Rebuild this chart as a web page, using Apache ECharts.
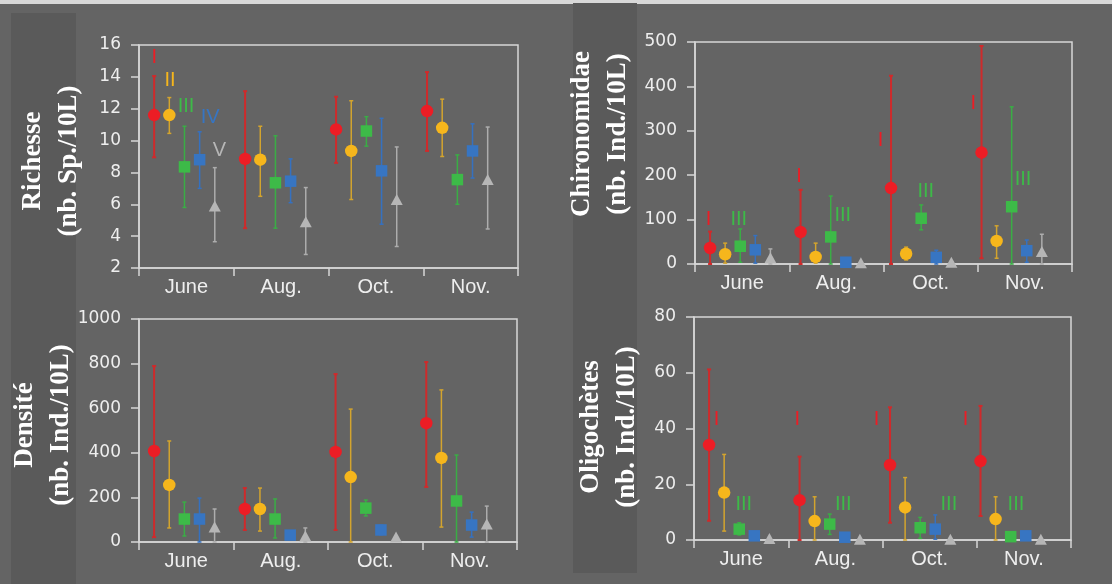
<!DOCTYPE html>
<html>
<head>
<meta charset="utf-8">
<script src="https://cdn.jsdelivr.net/npm/echarts@6/dist/echarts.min.js"></script>
<style>
  html, body { margin: 0; padding: 0; background: #646464; }
  #chart { width: 1112px; height: 584px; }
</style>
</head>
<body>
<div id="chart"></div>
<script>
// Sampling months and sites
const months = ['June', 'Aug.', 'Oct.', 'Nov.'];
const sites = ['I', 'II', 'III', 'IV', 'V'];

// Richesse (nb. Sp./10L) — one row per site, one column per month
const richesseMean = [
  [11.6, 8.85, 10.7, 11.85],
  [11.6, 8.8, 9.35, 10.8],
  [8.35, 7.35, 10.6, 7.55],
  [8.8, 7.45, 8.1, 9.35],
  [5.9, 4.9, 6.3, 7.55]
];
const richesseLow = [
  [8.95, 4.5, 8.6, 9.35],
  [10.45, 6.5, 6.3, 9.0],
  [5.8, 4.5, 9.65, 6.0],
  [7.0, 6.1, 4.75, 7.65],
  [3.65, 2.85, 3.35, 4.45]
];
const richesseHigh = [
  [14.05, 13.1, 12.75, 14.3],
  [12.7, 10.9, 12.5, 12.6],
  [10.9, 10.3, 11.5, 9.1],
  [10.55, 8.85, 11.4, 11.05],
  [8.3, 7.05, 9.6, 10.85]
];

// Chironomidae (nb. Ind./10L)
const chiroMean = [
  [36, 72, 171, 251],
  [22, 16, 23, 52],
  [40, 61, 103, 129],
  [32, 4, 15, 30],
  [14, 3, 4, 28]
];
const chiroLow = [
  [0, 0, 0, 13],
  [2, 2, 9, 13],
  [4, 0, 77, 0],
  [2, 4, 0, 4],
  [0, 3, 4, 0]
];
const chiroHigh = [
  [73, 167, 424, 491],
  [47, 47, 38, 86],
  [79, 153, 133, 354],
  [64, 4, 31, 54],
  [34, 3, 4, 67]
];

// Densité (nb. Ind./10L)
const densiteMean = [
  [408, 148, 404, 533],
  [256, 148, 291, 377],
  [103, 103, 152, 184],
  [103, 31, 54, 76],
  [67, 27, 22, 81]
];
const densiteLow = [
  [22, 54, 54, 247],
  [63, 49, 0, 67],
  [27, 18, 117, 0],
  [0, 31, 33, 22],
  [0, 0, 22, 0]
];
const densiteHigh = [
  [789, 242, 753, 807],
  [453, 242, 596, 682],
  [179, 193, 188, 390],
  [197, 31, 75, 134],
  [148, 63, 22, 161]
];

// Oligochètes (nb. Ind./10L)
const oligoMean = [
  [34.1, 14.3, 26.9, 28.3],
  [17.0, 6.8, 11.7, 7.5],
  [3.9, 5.7, 4.4, 1.2],
  [1.5, 1.0, 3.9, 1.5],
  [0.5, 0.3, 0.3, 0.3]
];
const oligoLow = [
  [6.9, 0, 6.2, 8.6],
  [3.2, 0, 0, 0],
  [1.8, 2.0, 0.6, 1.2],
  [1.5, 1.0, 0.3, 1.5],
  [0.5, 0.3, 0.3, 0.3]
];
const oligoHigh = [
  [61.2, 29.9, 47.6, 48.1],
  [30.7, 15.5, 22.4, 15.5],
  [6.2, 9.3, 8.1, 1.2],
  [1.5, 1.0, 9.0, 1.5],
  [0.5, 0.3, 0.3, 0.3]
];

// Site tags written on the plots: [site index, slot position, value]
const richesseTags = [[0, 0, 15.2], [1, 1.05, 13.75], [2, 2.1, 12.15], [3, 3.7, 11.45], [4, 4.3, 9.4]];
const chiroTags = [
  [0, -0.1, 101], [2, 1.9, 101],
  [0, 5.9, 198], [2, 8.8, 110],
  [0, 11.3, 278], [2, 14.3, 164],
  [0, 17.45, 361], [2, 20.75, 191]
];
const densiteTags = [];
const oligoTags = [
  [0, 0.5, 43.2], [2, 2.3, 12.9],
  [0, 5.85, 43.2], [2, 8.9, 12.9],
  [0, 11.1, 43.2], [2, 15.9, 12.9],
  [0, 17.0, 43.2], [2, 20.35, 12.9]
];

// Per-site look
const markerColor = ['#ec1d25', '#f6b61c', '#3dba48', '#3775c2', '#b6b6b6'];
const whiskerColor = ['#cf2a2b', '#d3a42e', '#3aad45', '#3571c0', '#adadad'];
const whiskerWidth = [2, 1.5, 1.5, 1.5, 1.5];
const markerShape = ['circle', 'circle', 'rect', 'rect', 'triangle'];
const markerSize = [12.5, 12.5, 11.5, 11.5, [12, 11]];

const panels = [
  { title: 'Richesse\n(nb. Sp./10L)', mean: richesseMean, low: richesseLow, high: richesseHigh, tags: richesseTags,
    yMin: 2, yMax: 16, yStep: 2, grid: { left: 139, top: 45, width: 379, height: 223 }, titleAt: [51.5, 161] },
  { title: 'Chironomidae\n(nb. Ind./10L)', mean: chiroMean, low: chiroLow, high: chiroHigh, tags: chiroTags,
    yMin: 0, yMax: 500, yStep: 100, grid: { left: 695, top: 42, width: 377, height: 222 }, titleAt: [600.5, 134] },
  { title: 'Densité\n(nb. Ind./10L)', mean: densiteMean, low: densiteLow, high: densiteHigh, tags: densiteTags,
    yMin: 0, yMax: 1000, yStep: 200, grid: { left: 139, top: 319, width: 378, height: 223 }, titleAt: [43, 425] },
  { title: 'Oligochètes\n(nb. Ind./10L)', mean: oligoMean, low: oligoLow, high: oligoHigh, tags: oligoTags,
    yMin: 0, yMax: 80, yStep: 20, grid: { left: 694, top: 317, width: 377, height: 223 }, titleAt: [609, 427] }
];

const axisGrey = '#d6d6d6';
const labelGrey = '#eeeeee';

// Each month holds six slots along the hidden value axis: five sites and a gap
const slotOf = (m, s) => m * 6 + s;

const grids = [], xAxes = [], yAxes = [], series = [], graphics = [];

// Header strip and darker title bands
graphics.push({ type: 'rect', shape: { x: 0, y: 0, width: 1112, height: 4 }, style: { fill: '#d8d8d8' }, z: 0 });
graphics.push({ type: 'rect', shape: { x: 11, y: 13, width: 65, height: 571 }, style: { fill: '#5a5a5a' }, z: 0 });
graphics.push({ type: 'rect', shape: { x: 573, y: 3, width: 64, height: 570 }, style: { fill: '#5a5a5a' }, z: 0 });

panels.forEach((p, pi) => {
  grids.push(Object.assign({ show: true, borderColor: axisGrey, borderWidth: 1.5, backgroundColor: 'transparent', containLabel: false }, p.grid));

  // Visible month axis
  xAxes.push({
    gridIndex: pi, type: 'category', data: months, boundaryGap: true, position: 'bottom',
    axisLine: { show: true, onZero: false, lineStyle: { color: axisGrey, width: 1.5 } },
    axisTick: { show: true, length: 8, alignWithLabel: false, lineStyle: { color: axisGrey, width: 1.5 } },
    axisLabel: { color: labelGrey, fontSize: 20, fontFamily: 'Liberation Sans', margin: 9 },
    splitLine: { show: false }
  });
  // Hidden slot axis carrying the marks
  xAxes.push({ gridIndex: pi, type: 'value', min: -1, max: 24, show: false,
    axisLine: { onZero: false }, splitLine: { show: false } });

  yAxes.push({
    gridIndex: pi, type: 'value', min: p.yMin, max: p.yMax, interval: p.yStep, position: 'left',
    axisLine: { show: true, onZero: false, lineStyle: { color: axisGrey, width: 1.5 } },
    axisTick: { show: true, length: 8, lineStyle: { color: axisGrey, width: 1.5 } },
    axisLabel: { color: labelGrey, fontSize: 17, fontFamily: 'DejaVu Sans', margin: 18, formatter: v => String(v) },
    splitLine: { show: false }
  });

  const xi = pi * 2 + 1;

  sites.forEach((site, s) => {
    const bars = months.map((m, mi) => [slotOf(mi, s), p.low[s][mi], p.high[s][mi]]);
    const pts = months.map((m, mi) => [slotOf(mi, s), p.mean[s][mi]]);

    series.push({
      type: 'custom', xAxisIndex: xi, yAxisIndex: pi, data: bars, z: 2, silent: true, animation: false,
      encode: { x: 0, y: [1, 2] },
      renderItem: (params, api) => {
        const x = api.value(0);
        const top = api.coord([x, api.value(2)]);
        const bot = api.coord([x, api.value(1)]);
        const st = { stroke: whiskerColor[s], lineWidth: whiskerWidth[s] };
        const cap = 2;
        return {
          type: 'group',
          children: [
            { type: 'line', shape: { x1: top[0], y1: top[1], x2: bot[0], y2: bot[1] }, style: st },
            { type: 'line', shape: { x1: top[0] - cap, y1: top[1], x2: top[0] + cap, y2: top[1] }, style: st },
            { type: 'line', shape: { x1: bot[0] - cap, y1: bot[1], x2: bot[0] + cap, y2: bot[1] }, style: st }
          ]
        };
      }
    });

    series.push({
      type: 'scatter', xAxisIndex: xi, yAxisIndex: pi, data: pts, z: 3, silent: true, animation: false,
      symbol: markerShape[s], symbolSize: markerSize[s],
      itemStyle: { color: markerColor[s], opacity: 1 }
    });
  });

  if (p.tags.length) {
    series.push({
      type: 'custom', xAxisIndex: xi, yAxisIndex: pi, z: 4, silent: true, animation: false,
      data: p.tags.map(t => [t[1], t[2], t[0]]),
      encode: { x: 0, y: 1 },
      renderItem: (params, api) => {
        const pos = api.coord([api.value(0), api.value(1)]);
        const s = api.value(2);
        return {
          type: 'text', x: pos[0], y: pos[1],
          style: { text: sites[s], fill: markerColor[s], font: '20px "Liberation Sans"', align: 'center', verticalAlign: 'middle' }
        };
      }
    });
  }

  graphics.push({
    type: 'text', x: p.titleAt[0], y: p.titleAt[1], rotation: Math.PI / 2, z: 5,
    style: {
      text: p.title, fill: '#ffffff', font: 'bold 27px "Liberation Serif"',
      align: 'center', verticalAlign: 'middle', lineHeight: 36
    }
  });
});

const chart = echarts.init(document.getElementById('chart'), null, { renderer: 'canvas' });
chart.setOption({
  backgroundColor: '#646464',
  animation: false,
  grid: grids,
  xAxis: xAxes,
  yAxis: yAxes,
  series: series,
  graphic: { elements: graphics }
});
</script>
</body>
</html>
